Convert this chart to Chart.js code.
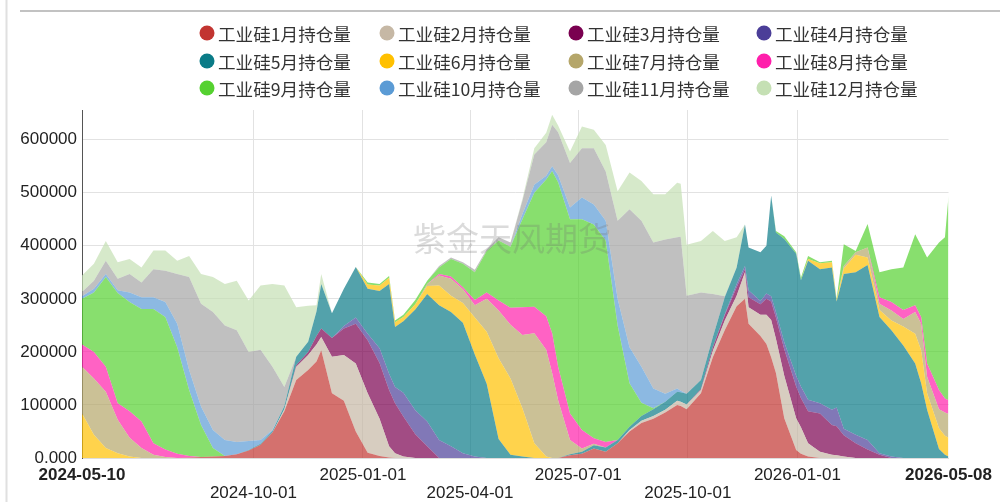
<!DOCTYPE html>
<html lang="zh-CN">
<head>
<meta charset="utf-8">
<title>工业硅各合约持仓量</title>
<script src="https://cdn.jsdelivr.net/npm/chart.js@4.4.0/dist/chart.umd.min.js"></script>
<style>
  html, body { margin: 0; padding: 0; background: #fff; }
  #wrap { position: relative; width: 1000px; height: 502px; }
</style>
</head>
<body>
<div id="wrap"><canvas id="oiChart"></canvas></div>
<script>
// x = days since 2024-05-10
const days = [
  0, 10, 20, 30, 40, 50, 60, 70, 80, 90,
  100, 110, 120, 130, 140, 150, 160, 170, 180, 190,
  197, 201, 210, 220, 230, 240, 250, 258, 263, 270,
  280, 290, 300, 310, 320, 330, 340, 350, 360, 370,
  380, 390, 395, 400, 410, 420, 430, 440, 450, 460,
  470, 480, 490, 500, 503, 508, 520, 530, 540, 550,
  557, 560, 570, 575, 579, 583, 590, 600, 604, 610,
  620, 630, 634, 640, 650, 660, 670, 680, 690, 700,
  705, 710, 720, 725, 728
];

// open interest per contract month (stack order: 1月 at the bottom)
const oiJan = [
  0, 0, 0, 0, 0, 0, 0, 0, 0, 1000,
  2000, 3000, 4000, 7000, 14000, 25000, 48000, 88000, 147000, 166000,
  182000, 203000, 122000, 108000, 50000, 10000, 4000, 1000, 0, 0,
  0, 0, 0, 0, 0, 0, 0, 0, 0, 0,
  0, 0, 0, 0, 5000, 8000, 18000, 12000, 28000, 50000,
  66000, 74000, 86000, 100000, 98000, 92000, 122000, 190000, 241000, 286000,
  300000, 253000, 230000, 215000, 190000, 160000, 75000, 15000, 8000, 3000,
  0, 0, 0, 0, 0, 0, 0, 0, 0, 0,
  0, 0, 0, 0, 0
];
const oiFeb = [
  0, 0, 0, 0, 0, 0, 0, 0, 0, 0,
  0, 0, 0, 0, 0, 0, 0, 4000, 25000, 28000,
  32000, 25000, 69000, 86000, 128000, 112000, 70000, 21000, 9000, 3000,
  0, 0, 0, 0, 0, 0, 0, 0, 0, 0,
  0, 0, 0, 0, 0, 0, 0, 0, 0, 3000,
  4000, 5000, 5000, 8000, 8000, 9000, 6000, 12000, 18000, 20000,
  50000, 31000, 40000, 55000, 70000, 65000, 80000, 60000, 50000, 25000,
  12000, 6000, 5000, 3000, 0, 0, 0, 0, 0, 0,
  0, 0, 0, 0, 0
];
const oiMar = [
  0, 0, 0, 0, 0, 0, 0, 0, 0, 0,
  0, 0, 0, 0, 0, 0, 0, 0, 3000, 6000,
  16000, 16000, 35000, 50000, 75000, 100000, 105000, 106000, 94000, 75000,
  45000, 22000, 0, 0, 0, 0, 0, 0, 0, 0,
  0, 0, 0, 0, 0, 0, 0, 0, 0, 0,
  0, 0, 0, 0, 0, 0, 2000, 7000, 10000, 16000,
  6000, 19000, 20000, 30000, 35000, 40000, 50000, 60000, 55000, 60000,
  72000, 56000, 55000, 40000, 28000, 16000, 6000, 0, 0, 0,
  0, 0, 0, 0, 0
];
const oiApr = [
  0, 0, 0, 0, 0, 0, 0, 0, 0, 0,
  0, 0, 0, 0, 0, 0, 0, 0, 0, 0,
  0, 0, 0, 5000, 12000, 12000, 28000, 31000, 31000, 45000,
  45000, 47000, 34000, 22000, 9000, 3000, 0, 0, 0, 0,
  0, 0, 0, 0, 0, 0, 0, 0, 0, 0,
  0, 0, 0, 0, 0, 0, 0, 0, 2000, 6000,
  6000, 13000, 6000, 10000, 10000, 10000, 13000, 20000, 22000, 22000,
  19000, 29000, 35000, 12000, 16000, 18000, 3000, 3000, 0, 0,
  0, 0, 0, 0, 0
];
const oiMay = [
  0, 0, 0, 0, 0, 0, 0, 0, 0, 0,
  0, 0, 0, 0, 1000, 2000, 3000, 6000, 16000, 19000,
  46000, 84000, 47000, 70000, 95000, 85000, 108000, 169000, 113000, 135000,
  190000, 240000, 254000, 253000, 246000, 192000, 140000, 36000, 6000, 3000,
  0, 0, 0, 0, 2000, 4000, 6000, 8000, 6000, 6000,
  9000, 13000, 15000, 17000, 18000, 20000, 17000, 19000, 32000, 31000,
  78000, 81000, 92000, 90000, 190000, 150000, 195000, 230000, 200000, 262000,
  253000, 268000, 200000, 292000, 306000, 330000, 257000, 238000, 212000, 178000,
  141000, 91000, 17000, 6000, 3000
];
const oiJun = [
  84000, 44000, 19000, 9000, 3000, 0, 0, 0, 0, 0,
  0, 0, 0, 0, 0, 0, 0, 0, 0, 0,
  0, 0, 0, 0, 0, 8000, 10000, 12000, 9000, 8000,
  10000, 15000, 37000, 31000, 37000, 70000, 98000, 152000, 144000, 91000,
  28000, 3000, 0, 0, 0, 0, 0, 0, 0, 0,
  0, 0, 0, 0, 0, 0, 0, 0, 0, 0,
  0, 0, 0, 0, 0, 0, 0, 0, 0, 3000,
  11000, 10000, 3000, 10000, 33000, 14000, 13000, 18000, 36000, 56000,
  62000, 31000, 39000, 36000, 35000
];
const oiJul = [
  88000, 106000, 106000, 63000, 35000, 19000, 6000, 2000, 0, 0,
  0, 0, 0, 0, 0, 0, 0, 0, 0, 0,
  0, 0, 0, 0, 0, 0, 0, 0, 0, 0,
  0, 4000, 19000, 32000, 26000, 23000, 62000, 90000, 101000, 138000,
  207000, 201000, 160000, 109000, 27000, 6000, 3000, 0, 0, 0,
  0, 0, 0, 0, 0, 0, 0, 0, 0, 0,
  0, 0, 0, 0, 0, 0, 0, 0, 0, 0,
  0, 0, 0, 5000, 5000, 19000, 12000, 19000, 14000, 41000,
  50000, 31000, 36000, 44000, 45000
];
const oiAug = [
  42000, 50000, 47000, 31000, 50000, 50000, 22000, 14000, 8000, 3000,
  0, 0, 0, 0, 0, 0, 0, 0, 0, 0,
  0, 0, 0, 0, 0, 0, 0, 0, 0, 0,
  0, 0, 3000, 4000, 4000, 10000, 12000, 19000, 32000, 52000,
  50000, 63000, 75000, 63000, 50000, 35000, 10000, 10000, 0, 0,
  0, 0, 0, 0, 0, 0, 0, 0, 0, 0,
  0, 0, 0, 0, 0, 0, 0, 0, 0, 0,
  0, 0, 0, 0, 0, 0, 12000, 16000, 17000, 13000,
  13000, 25000, 36000, 26000, 26000
];
const oiSep = [
  86000, 112000, 169000, 208000, 206000, 212000, 253000, 250000, 201000, 124000,
  60000, 16000, 0, 0, 0, 0, 0, 0, 0, 0,
  0, 0, 0, 0, 0, 4000, 3000, 3000, 3000, 4000,
  8000, 6000, 12000, 33000, 44000, 52000, 78000, 113000, 115000, 166000,
  215000, 258000, 306000, 348000, 366000, 397000, 403000, 380000, 216000, 82000,
  25000, 2000, 0, 0, 0, 0, 0, 0, 0, 0,
  0, 0, 0, 0, 0, 3000, 5000, 3000, 5000, 6000,
  2000, 3000, 2000, 41000, 2000, 44000, 47000, 62000, 80000, 134000,
  134000, 200000, 278000, 304000, 385000
];
const oiOct = [
  5000, 7000, 6000, 5000, 18000, 22000, 22000, 28000, 44000, 38000,
  35000, 34000, 30000, 23000, 17000, 7000, 2000, 0, 0, 0,
  0, 0, 0, 0, 0, 0, 0, 0, 0, 0,
  0, 0, 0, 0, 0, 0, 0, 0, 0, 10000,
  15000, 7000, 9000, 13000, 22000, 41000, 38000, 37000, 50000, 68000,
  68000, 37000, 15000, 6000, 3000, 0, 0, 0, 0, 0,
  0, 0, 0, 0, 0, 0, 0, 0, 0, 0,
  0, 0, 0, 0, 0, 0, 0, 0, 0, 0,
  0, 0, 0, 0, 0
];
const oiNov = [
  8000, 15000, 25000, 22000, 35000, 28000, 53000, 59000, 94000, 175000,
  194000, 222000, 216000, 211000, 168000, 170000, 119000, 36000, 0, 0,
  0, 0, 0, 0, 0, 0, 0, 0, 0, 0,
  0, 0, 3000, 3000, 3000, 5000, 3000, 6000, 8000, 25000,
  57000, 63000, 78000, 81000, 84000, 93000, 106000, 93000, 147000, 260000,
  275000, 275000, 291000, 285000, 290000, 185000, 165000, 81000, 2000, 0,
  0, 0, 0, 0, 0, 0, 0, 0, 0, 0,
  0, 0, 0, 0, 0, 0, 0, 0, 0, 0,
  0, 0, 0, 0, 0
];
const oiDec = [
  31000, 32000, 37000, 31000, 28000, 28000, 35000, 38000, 25000, 40000,
  56000, 66000, 78000, 93000, 97000, 121000, 156000, 191000, 93000, 68000,
  12000, 19000, 0, 0, 0, 0, 0, 0, 0, 0,
  0, 0, 0, 0, 0, 0, 0, 0, 0, 3000,
  12000, 18000, 19000, 13000, 22000, 41000, 35000, 50000, 56000, 69000,
  75000, 91000, 85000, 103000, 100000, 96000, 97000, 119000, 104000, 57000,
  0, 0, 0, 0, 0, 0, 0, 0, 0, 0,
  0, 0, 0, 0, 0, 0, 0, 0, 0, 0,
  0, 0, 0, 0, 0
];

const seriesNames = [
  '工业硅1月持仓量', '工业硅2月持仓量', '工业硅3月持仓量', '工业硅4月持仓量',
  '工业硅5月持仓量', '工业硅6月持仓量', '工业硅7月持仓量', '工业硅8月持仓量',
  '工业硅9月持仓量', '工业硅10月持仓量', '工业硅11月持仓量', '工业硅12月持仓量'
];
const seriesColors = [
  '#c23531', '#c6b8a5', '#7a0050', '#4b3e98', '#0a7b87', '#ffc000',
  '#b5a66a', '#ff1fab', '#55d130', '#5b9bd5', '#a5a5a5', '#c5e0b4'
];
const allSeries = [oiJan, oiFeb, oiMar, oiApr, oiMay, oiJun, oiJul, oiAug, oiSep, oiOct, oiNov, oiDec];

const tickDays = [0, 144, 236, 326, 417, 509, 601, 728];
const tickLabels = ['2024-05-10', '2024-10-01', '2025-01-01', '2025-04-01', '2025-07-01', '2025-10-01', '2026-01-01', '2026-05-08'];
const yTicks = [0, 100000, 200000, 300000, 400000, 500000, 600000];

const legendCols = [207, 387, 576, 764];
const legendRows = [33, 61, 88];

function withAlpha(hex, a) {
  const n = parseInt(hex.slice(1), 16);
  return 'rgba(' + (n >> 16) + ',' + ((n >> 8) & 255) + ',' + (n & 255) + ',' + a + ')';
}

// page frame lines
const framePlugin = {
  id: 'frame',
  beforeDraw(chart) {
    const ctx = chart.ctx;
    ctx.save();
    ctx.strokeStyle = '#e0e0e0';
    ctx.lineWidth = 2;
    ctx.beginPath();
    ctx.moveTo(6.5, 0);
    ctx.lineTo(6.5, chart.height);
    ctx.stroke();
    ctx.strokeStyle = '#c2c2c2';
    ctx.beginPath();
    ctx.moveTo(20, 11);
    ctx.lineTo(chart.width, 11);
    ctx.stroke();
    ctx.restore();
  }
};

// legend laid out as a 4 x 3 grid
const gridLegend = {
  id: 'gridLegend',
  afterDraw(chart) {
    const ctx = chart.ctx;
    ctx.save();
    ctx.font = '17.6px "Noto Sans CJK SC", sans-serif';
    ctx.textBaseline = 'middle';
    ctx.textAlign = 'left';
    seriesNames.forEach((name, i) => {
      const cx = legendCols[i % 4];
      const cy = legendRows[Math.floor(i / 4)];
      ctx.fillStyle = seriesColors[i];
      ctx.beginPath();
      ctx.arc(cx, cy, 7.5, 0, Math.PI * 2);
      ctx.fill();
      ctx.fillStyle = '#333';
      ctx.fillText(name, cx + 11, cy + 1);
    });
    ctx.restore();
  }
};

const watermark = {
  id: 'watermark',
  afterDatasetsDraw(chart) {
    const ctx = chart.ctx;
    ctx.save();
    ctx.font = '33px "Noto Sans CJK SC", sans-serif';
    ctx.fillStyle = 'rgba(110,110,110,0.25)';
    ctx.textAlign = 'center';
    ctx.textBaseline = 'middle';
    ctx.fillText('紫金天风期货', 512, 238);
    ctx.restore();
  }
};

const datasets = allSeries.map((vals, i) => ({
  label: seriesNames[i],
  data: vals.map((v, j) => ({ x: days[j], y: v })),
  backgroundColor: withAlpha(seriesColors[i], 0.7),
  borderWidth: 0,
  pointRadius: 0,
  pointHoverRadius: 0,
  tension: 0,
  fill: i === 0 ? 'origin' : '-1'
}));

const tickFont = "'Liberation Sans', Arial, sans-serif";
const lastTick = tickDays.length - 1;

new Chart(document.getElementById('oiChart'), {
  type: 'line',
  data: { datasets: datasets },
  options: {
    responsive: true,
    maintainAspectRatio: false,
    animation: false,
    layout: { padding: { top: 110, right: 48, left: 0, bottom: 0 } },
    plugins: {
      legend: { display: false },
      tooltip: { enabled: false }
    },
    scales: {
      x: {
        type: 'linear',
        min: tickDays[0],
        max: tickDays[lastTick],
        afterBuildTicks: (s) => { s.ticks = tickDays.map(v => ({ value: v })); },
        afterFit: (s) => { s.height = 44; },
        grid: {
          drawTicks: false,
          color: (c) => (c.tick && (c.tick.value === tickDays[0] || c.tick.value === tickDays[lastTick])) ? 'rgba(0,0,0,0)' : '#e2e2e2'
        },
        border: { color: '#dddddd' },
        ticks: {
          autoSkip: false,
          maxRotation: 0,
          minRotation: 0,
          padding: 8,
          color: '#222',
          font: (c) => ({
            family: tickFont,
            size: 17,
            lineHeight: '18px',
            weight: (c.index === 0 || c.index === lastTick) ? 'bold' : 'normal'
          }),
          // alternate labels drop to a second row, the end dates stay on top
          callback: (v, i) => (i % 2 === 1 && i !== lastTick ? ['', tickLabels[i]] : tickLabels[i])
        }
      },
      y: {
        stacked: true,
        min: 0,
        max: 656000,
        afterBuildTicks: (s) => { s.ticks = yTicks.map(v => ({ value: v })); },
        afterFit: (s) => { s.width = 82; },
        grid: { drawTicks: false, color: '#e2e2e2' },
        border: { color: '#555555' },
        ticks: {
          padding: 5,
          color: '#222',
          font: { family: tickFont, size: 17 },
          callback: (v) => (v === 0 ? '0.000' : String(v))
        }
      }
    }
  },
  plugins: [framePlugin, gridLegend, watermark]
});
</script>
</body>
</html>
